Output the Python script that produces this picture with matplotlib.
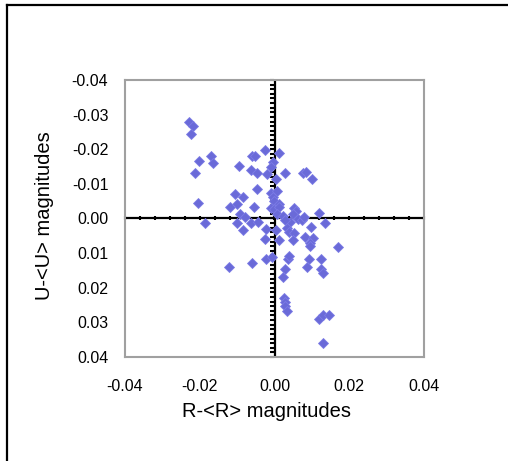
import matplotlib
matplotlib.use("Agg")
import matplotlib.pyplot as plt
from matplotlib.lines import Line2D
import numpy as np

plt.rcParams['font.family'] = ['Liberation Sans', 'DejaVu Sans']

# R-<R> magnitudes
r_dev = [-0.0229, -0.0219, -0.0224, -0.0202, -0.0212, -0.0171, -0.0164, -0.0206, -0.0185, -0.0096,
         -0.0059, -0.0051, -0.0026, 0.0013, -0.0063, -0.0047, -0.0021, -0.0004, -0.0010, 0.0003,
         0.0029, 0.0077, 0.0083, 0.0099, -0.0046, -0.0105, -0.0084, -0.0101, -0.0119, -0.0056,
         -0.0092, -0.0079, -0.0101, -0.0084, -0.0063, -0.0043, -0.0010, -0.0004, 0.0006, -0.0001,
         0.0011, -0.0010, -0.0001, 0.0013, 0.0006, 0.0022, 0.0051, 0.0058, 0.0049, 0.0042,
         0.0062, 0.0073, 0.0079, 0.0120, 0.0136, 0.0098, 0.0029, 0.0033, 0.0038, 0.0051,
         -0.0022, 0.0003, -0.0025, 0.0013, 0.0049, 0.0082, 0.0104, 0.0094, 0.0096, 0.0169,
         -0.0022, -0.0006, 0.0035, 0.0040, 0.0093, 0.0124, 0.0087, 0.0029, 0.0124, 0.0129,
         -0.0059, -0.0122, 0.0022, 0.0026, 0.0029, 0.0029, 0.0033, 0.0120, 0.0129, 0.0146,
         0.0130]
# U-<U> magnitudes
u_dev = [-0.0279, -0.0267, -0.0243, -0.0166, -0.0132, -0.0181, -0.0161, -0.0046, 0.0013, -0.0152,
         -0.0181, -0.0180, -0.0197, -0.0189, -0.0139, -0.0132, -0.0128, -0.0163, -0.0150, -0.0115,
         -0.0132, -0.0130, -0.0134, -0.0114, -0.0086, -0.0070, -0.0063, -0.0043, -0.0034, -0.0034,
         -0.0014, -0.0005, 0.0013, 0.0034, 0.0013, 0.0010, -0.0074, -0.0061, -0.0080, -0.0051,
         -0.0041, -0.0029, -0.0026, -0.0034, -0.0014, -0.0007, -0.0029, -0.0022, -0.0013, 0.0010,
         0.0001, 0.0005, -0.0005, -0.0017, 0.0013, 0.0025, 0.0005, 0.0026, 0.0039, 0.0043,
         0.0030, 0.0034, 0.0059, 0.0063, 0.0063, 0.0053, 0.0055, 0.0070, 0.0080, 0.0082,
         0.0117, 0.0112, 0.0117, 0.0107, 0.0117, 0.0117, 0.0140, 0.0146, 0.0146, 0.0157,
         0.0128, 0.0140, 0.0168, 0.0229, 0.0241, 0.0254, 0.0267, 0.0290, 0.0279, 0.0279,
         0.0359]

x_ticks = [-0.04, -0.02, 0.00, 0.02, 0.04]
y_ticks = [-0.04, -0.03, -0.02, -0.01, 0.00, 0.01, 0.02, 0.03, 0.04]

W, H = 508, 461
fig = plt.figure(figsize=(W / 100, H / 100), dpi=100)
fig.patch.set_facecolor('white')

# outer chart border (left and top visible)
fig.add_artist(Line2D([7 / W, 7 / W], [0, 1 - 5 / H], transform=fig.transFigure, color='black', lw=1.6))
fig.add_artist(Line2D([7 / W, 1], [1 - 5 / H, 1 - 5 / H], transform=fig.transFigure, color='black', lw=1.6))

left, right, top, bottom = 125, 424, 80, 357
ax = fig.add_axes([left / W, 1 - bottom / H, (right - left) / W, (bottom - top) / H])

ax.set_xlim(-0.04, 0.04)
ax.set_ylim(0.04, -0.04)

for s in ax.spines.values():
    s.set_color('#a0a0a0')
    s.set_linewidth(1.5)

ax.set_xticks(x_ticks)
ax.set_yticks(y_ticks)
ax.set_xticklabels(['%.2f' % v for v in x_ticks])
ax.set_yticklabels(['%.2f' % v for v in y_ticks])
ax.tick_params(length=0, labelsize=11.5, colors='black')
ax.tick_params(axis='x', pad=16)
ax.tick_params(axis='y', pad=12)

# crossing axes at zero with tick marks
ax.axhline(0, color='black', lw=1.6, zorder=2)
ax.axvline(0, color='black', lw=1.6, zorder=2)
xminor = np.arange(-0.04, 0.0401, 0.004)
yminor = np.linspace(-0.04, 0.04, 61)
ax.plot(xminor, np.zeros_like(xminor), linestyle='none', marker='|', markersize=3.5,
        markeredgewidth=1.5, color='black', zorder=2, clip_on=False)
ax.plot(np.zeros_like(yminor) - 0.0006, yminor, linestyle='none', marker='_', markersize=3.5,
        markeredgewidth=1.5, color='black', zorder=2, clip_on=False)

ax.plot(r_dev, u_dev, linestyle='none', marker='D', markersize=4.6,
        color='#6a6ad8', markeredgecolor='#7c7ce6', markeredgewidth=0.6, zorder=3)

fig.text(266 / W, 1 - 411 / H, 'R-<R> magnitudes', ha='center', va='center', fontsize=14.5)
fig.text(45 / W, 1 - 216 / H, 'U-<U> magnitudes', ha='center', va='center', fontsize=14.5,
         rotation=90)

fig.savefig('out.png', dpi=100)
